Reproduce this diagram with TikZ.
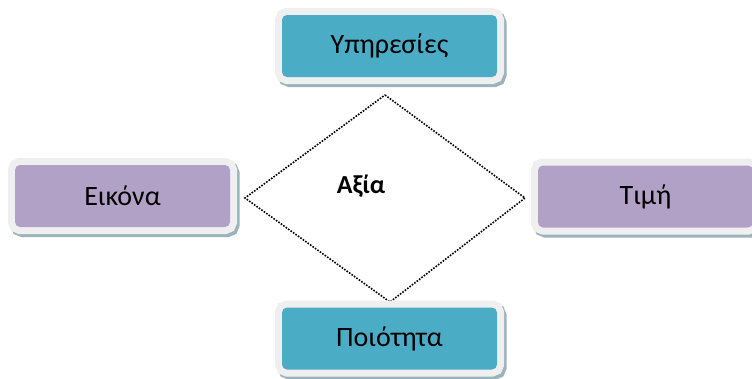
\documentclass[tikz,border=0pt]{standalone}
\usepackage{fontspec}
\setmainfont{Carlito}
\begin{document}
\begin{tikzpicture}[x=1pt,y=-1pt,
  every node/.style={font=\fontsize{28}{32}\selectfont},
  itembox/.style={rounded corners=5pt, inner sep=0pt, text=black,
    preaction={draw=boxshadow, line width=14pt, transform canvas={shift={(2.5pt,-3pt)}}},
    preaction={draw=boxframe, line width=14pt}},
  tealbox/.style={itembox, fill=accentteal, minimum width=215pt, minimum height=62pt},
  lilacbox/.style={itembox, fill=accentlilac, minimum width=215pt, minimum height=62pt},
  edgeline/.style={draw=black, line width=1.6pt, dash pattern=on 1.6pt off 1.4pt}
]
\definecolor{accentteal}{HTML}{4BACC6}
\definecolor{accentlilac}{HTML}{B2A1C7}
\definecolor{boxframe}{HTML}{EFEFEF}
\definecolor{boxshadow}{HTML}{9AB3BC}
\useasboundingbox (0,0) rectangle (752,378);
\fill[white] (0,0) rectangle (752,378);

% value diamond
\coordinate (dtop) at (385,95);
\coordinate (dright) at (525,198);
\coordinate (dbottom) at (390,302);
\coordinate (dleft) at (245,198);
\draw[edgeline] (dtop) -- (dright) -- (dbottom) -- (dleft) -- cycle;
\node[font=\fontsize{26}{30}\selectfont\bfseries] (value) at (361,186) {Αξία};

% the four surrounding boxes
\node[tealbox] (services) at (389.5,46) {Υπηρεσίες};
\node[lilacbox] (image) at (122.5,196) {Εικόνα};
\node[lilacbox] (price) at (645.5,196.5) {Τιμή};
\node[tealbox] (quality) at (389.5,338.5) {Ποιότητα};
\end{tikzpicture}
\end{document}
